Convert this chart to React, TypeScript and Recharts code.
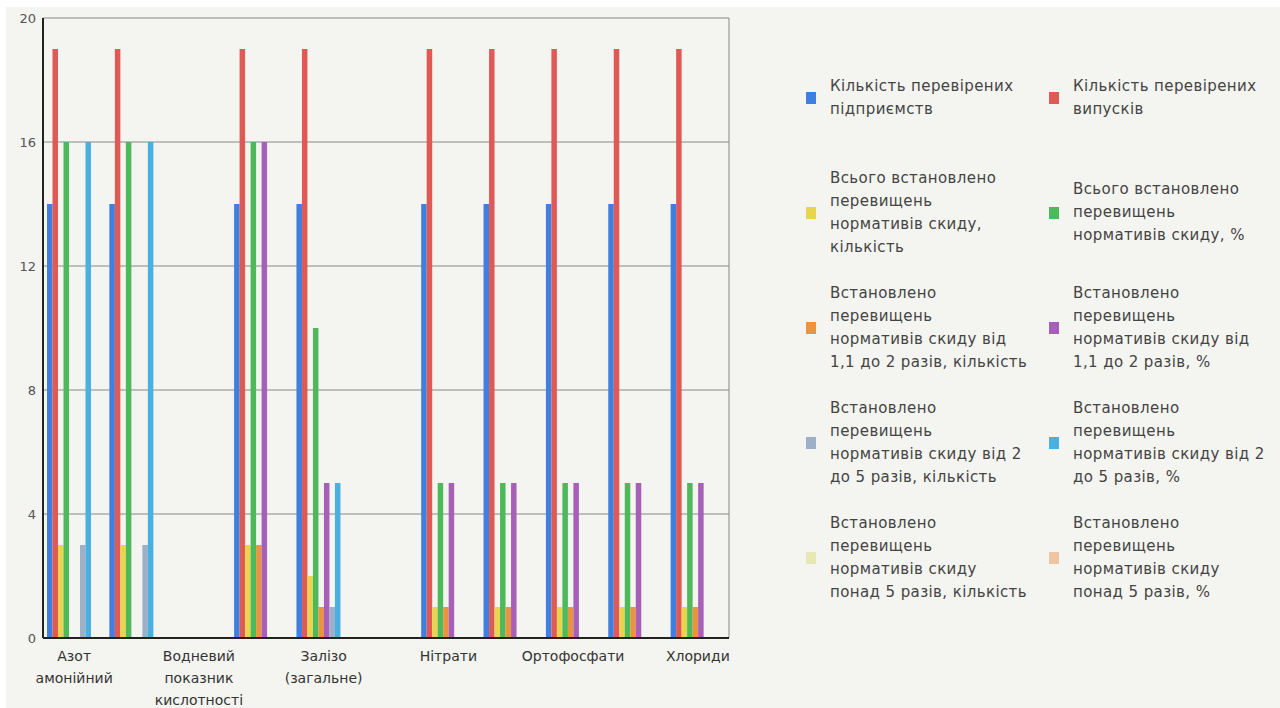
import { BarChart, Bar, XAxis, YAxis, CartesianGrid, Legend } from 'recharts';

const CATEGORIES = [
  'Азот амонійний',
  'БСК5',
  'Водневий показник кислотності',
  'Завислі речовини',
  'Залізо (загальне)',
  'Нафтопродукти',
  'Нітрати',
  'Нітрити',
  'Ортофосфати',
  'Сульфати',
  'Хлориди',
];

const Y_TICKS = [0, 4, 8, 12, 16, 20];

// legend labels, line breaks as in the original
const SERIES_NAMES = [
  'Кількість перевірених\nпідприємств',
  'Кількість перевірених\nвипусків',
  'Всього встановлено\nперевищень\nнормативів скиду,\nкількість',
  'Всього встановлено\nперевищень\nнормативів скиду, %',
  'Встановлено\nперевищень\nнормативів скиду від\n1,1 до 2 разів, кількість',
  'Встановлено\nперевищень\nнормативів скиду від\n1,1 до 2 разів, %',
  'Встановлено\nперевищень\nнормативів скиду від 2\nдо 5 разів, кількість',
  'Встановлено\nперевищень\nнормативів скиду від 2\nдо 5 разів, %',
  'Встановлено\nперевищень\nнормативів скиду\nпонад 5 разів, кількість',
  'Встановлено\nперевищень\nнормативів скиду\nпонад 5 разів, %',
];

const SERIES_COLORS = [
  '#3f7fdf', '#e05a55', '#e9d44f', '#4db95a', '#ea9440',
  '#a660b8', '#9eb0c8', '#4ab0e2', '#e8e8b5', '#eec5a0',
];

const ENTERPRISES = [14, 14, 0, 14, 14, 0, 14, 14, 14, 14, 14];
const OUTLETS = [19, 19, 0, 19, 19, 0, 19, 19, 19, 19, 19];
const TOTAL_COUNT = [3, 3, 0, 3, 2, 0, 1, 1, 1, 1, 1];
const TOTAL_PCT = [16, 16, 0, 16, 10, 0, 5, 5, 5, 5, 5];
const X1_2_COUNT = [0, 0, 0, 3, 1, 0, 1, 1, 1, 1, 1];
const X1_2_PCT = [0, 0, 0, 16, 5, 0, 5, 5, 5, 5, 5];
const X2_5_COUNT = [3, 3, 0, 0, 1, 0, 0, 0, 0, 0, 0];
const X2_5_PCT = [16, 16, 0, 0, 5, 0, 0, 0, 0, 0, 0];
const OVER5_COUNT = [0, 0, 0, 0, 0, 0, 0, 0, 0, 0, 0];
const OVER5_PCT = [0, 0, 0, 0, 0, 0, 0, 0, 0, 0, 0];

const SERIES_VALUES = [
  ENTERPRISES, OUTLETS, TOTAL_COUNT, TOTAL_PCT, X1_2_COUNT,
  X1_2_PCT, X2_5_COUNT, X2_5_PCT, OVER5_COUNT, OVER5_PCT,
];

const data = CATEGORIES.map((name, i) => {
  const row: Record<string, string | number> = { name };
  SERIES_VALUES.forEach((vals, s) => {
    row['s' + s] = vals[i];
  });
  return row;
});

const FONT = '"DejaVu Sans", Verdana, sans-serif';

function CategoryTick({ x, y, payload }: any) {
  const words = String(payload.value).split(' ');
  return (
    <text x={x} y={y} textAnchor="middle" fill="#333" fontSize={14} fontFamily={FONT}>
      {words.map((w, i) => (
        <tspan key={i} x={x} dy={i === 0 ? 9 : 22}>{w}</tspan>
      ))}
    </text>
  );
}

function SeriesLegend({ payload }: any) {
  return (
    <div style={{
      display: 'grid', gridTemplateColumns: '243px 237px', gridAutoRows: '115px',
      fontFamily: FONT, fontSize: 15, letterSpacing: 0.4, color: '#444',
    }}>
      {(payload || []).map((p: any) => (
        <div key={p.value} style={{ display: 'flex', alignItems: 'center' }}>
          <span style={{ width: 10, height: 12, background: p.color, marginRight: 14, flexShrink: 0 }} />
          <span style={{ whiteSpace: 'pre', lineHeight: '23px' }}>{p.value}</span>
        </div>
      ))}
    </div>
  );
}

export default function App() {
  return (
    <div style={{ position: 'absolute', left: 0, top: 0, width: 1280, height: 708, background: '#fff', overflow: 'hidden' }}>
      <div style={{ position: 'absolute', left: 6, top: 7, width: 1274, height: 701, background: '#f4f4f0' }}>
        <BarChart
          width={1274}
          height={701}
          data={data}
          margin={{ top: 11, right: 551, bottom: 0, left: 0 }}
          barGap={0}
          barSize={5.5}
        >
          <CartesianGrid
            stroke="#888"
            verticalCoordinatesGenerator={({ offset }: any) => [offset.left + offset.width]}
          />
          <XAxis
            dataKey="name"
            interval={1}
            height={70}
            tickLine={false}
            tickSize={0}
            tickMargin={14}
            axisLine={{ stroke: '#222', strokeWidth: 2 }}
            tick={<CategoryTick />}
          />
          <YAxis
            width={37}
            domain={[0, 20]}
            ticks={Y_TICKS}
            tickLine={false}
            tickSize={0}
            tickMargin={7}
            axisLine={{ stroke: '#222', strokeWidth: 2 }}
            tick={{ fill: '#555', fontSize: 13, fontFamily: FONT }}
          />
          <Legend
            layout="horizontal"
            verticalAlign="middle"
            align="center"
            itemSorter="dataKey"
            content={<SeriesLegend />}
            wrapperStyle={{ left: 800, top: 33, width: 480 }}
          />
          {SERIES_NAMES.map((name, s) => (
            <Bar
              key={s}
              dataKey={'s' + s}
              name={name}
              fill={SERIES_COLORS[s]}
              legendType="square"
              isAnimationActive={false}
            />
          ))}
        </BarChart>
      </div>
    </div>
  );
}
